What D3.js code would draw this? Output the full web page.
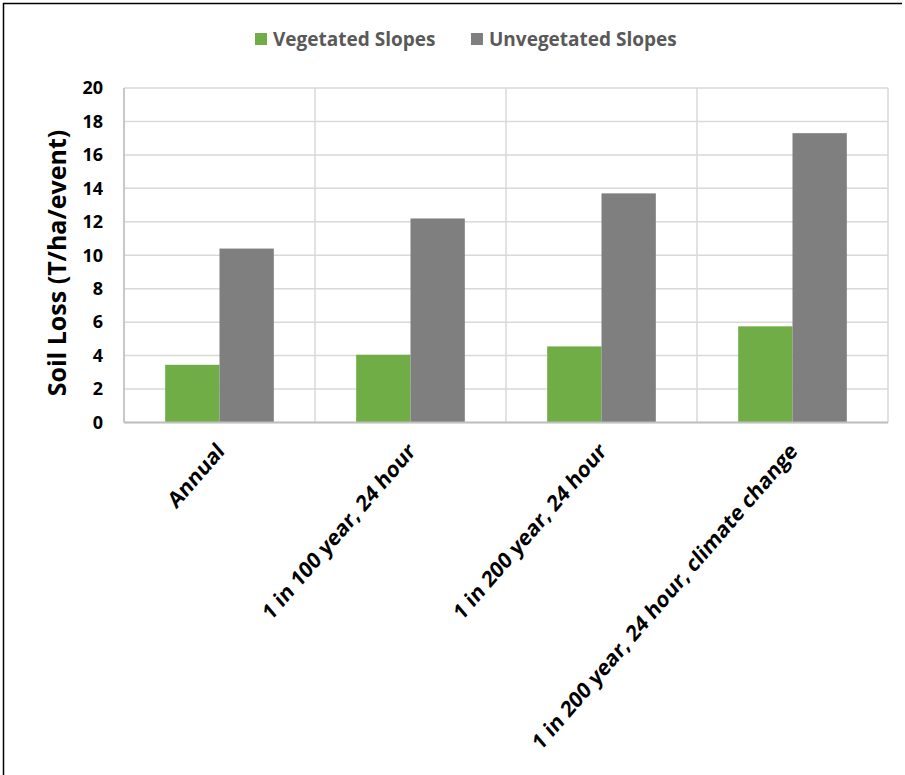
<!DOCTYPE html>
<html>
<head>
<meta charset="utf-8">
<script src="https://cdn.jsdelivr.net/npm/d3@7"></script>
<style>
  body { margin: 0; background: #fff; }
  svg { display: block; font-family: "Open Sans", "Liberation Sans", sans-serif; font-weight: bold; }
</style>
</head>
<body>
<svg id="chart"></svg>
<script>
// data
var categories = ["Annual", "1 in 100 year, 24 hour", "1 in 200 year, 24 hour", "1 in 200 year, 24 hour, climate change"];
var seriesNames = ["Vegetated Slopes", "Unvegetated Slopes"];
var vegetated = [3.45, 4.05, 4.55, 5.75];
var unvegetated = [10.4, 12.2, 13.7, 17.3];
var yTicks = [0, 2, 4, 6, 8, 10, 12, 14, 16, 18, 20];
var colors = ["#70AD47", "#7F7F7F"];

var W = 905, H = 775;
var pLeft = 124, pRight = 888, pTop = 88, pBottom = 422.5;
var font = "'Open Sans', sans-serif";

var svg = d3.select('#chart').attr("width", W).attr("height", H);

// outer frame (only left and top edges visible)
svg.append("line").attr("x1", 3.5).attr("y1", 3).attr("x2", 3.5).attr("y2", H)
    .attr("stroke", "#000").attr("stroke-width", 1.5);
svg.append("line").attr("x1", 3).attr("y1", 3.5).attr("x2", 902).attr("y2", 3.5)
    .attr("stroke", "#000").attr("stroke-width", 1.5);

var x0 = d3.scaleBand().domain(categories).range([pLeft, pRight]).paddingInner(0).paddingOuter(0);
var x1 = d3.scaleBand().domain(seriesNames).range([0, x0.bandwidth()]).paddingInner(0).paddingOuter(0.758);
var y = d3.scaleLinear().domain([0, 20]).range([pBottom, pTop]);

// horizontal gridlines
svg.append("g").selectAll("line").data(yTicks).enter().append("line")
    .attr("x1", pLeft).attr("x2", pRight)
    .attr("y1", function (d) { return y(d); }).attr("y2", function (d) { return y(d); })
    .attr("stroke", "#D9D9D9").attr("stroke-width", 1.5);

// vertical gridlines at category boundaries
var bounds = categories.map(function (c) { return x0(c); }).concat([pRight]);
svg.append("g").selectAll("line").data(bounds).enter().append("line")
    .attr("x1", function (d) { return d; }).attr("x2", function (d) { return d; })
    .attr("y1", pTop).attr("y2", pBottom)
    .attr("stroke", "#D9D9D9").attr("stroke-width", 1.5);

// bars
var rows = categories.map(function (c, i) { return { cat: c, vals: [vegetated[i], unvegetated[i]] }; });
var groups = svg.append("g").selectAll("g").data(rows).enter().append("g")
    .attr("transform", function (d) { return "translate(" + x0(d.cat) + ",0)"; });
groups.selectAll("rect").data(function (d) {
    return d.vals.map(function (v, j) { return { name: seriesNames[j], v: v, j: j }; });
}).enter().append("rect")
    .attr("x", function (d) { return x1(d.name); })
    .attr("width", x1.bandwidth())
    .attr("y", function (d) { return y(d.v); })
    .attr("height", function (d) { return y(0) - y(d.v); })
    .attr("fill", function (d) { return colors[d.j]; });

// axis lines
svg.append("line").attr("x1", pLeft).attr("x2", pRight).attr("y1", pBottom).attr("y2", pBottom)
    .attr("stroke", "#BFBFBF").attr("stroke-width", 2);
svg.append("line").attr("x1", pLeft).attr("x2", pLeft).attr("y1", pTop).attr("y2", pBottom)
    .attr("stroke", "#BFBFBF").attr("stroke-width", 1.5);

// y axis labels
var yAxis = d3.axisLeft(y).tickValues(yTicks).tickSize(0).tickPadding(21);
var gy = svg.append("g").attr("transform", "translate(" + pLeft + ",0)").call(yAxis);
gy.select(".domain").remove();
gy.selectAll("text").attr("font-size", 18).attr("font-family", font)
    .attr("font-weight", "bold").attr("fill", "#000");

// x axis labels (the source image is slightly stretched vertically)
var xAxis = d3.axisBottom(x0).tickSize(0).tickPadding(0);
var gx = svg.append("g").attr("transform", "translate(0," + pBottom + ")").call(xAxis);
gx.select(".domain").remove();
gx.selectAll("text")
    .attr("font-size", 19.5).attr("font-family", font).attr("font-weight", "bold").attr("fill", "#000")
    .attr("text-anchor", "end").attr("dy", null).attr("y", 0)
    .attr("transform", "translate(6,30) scale(1,1.16) rotate(-45)");

// y title
svg.append("text").attr("transform", "translate(66,263) rotate(-90)")
    .attr("text-anchor", "middle").attr("font-size", 25).attr("fill", "#000")
    .text("Soil Loss (T/ha/event)");

// legend
var legendX = [255, 471];
var legend = svg.append("g").selectAll("g").data(seriesNames).enter().append("g")
    .attr("transform", function (d, i) { return "translate(" + legendX[i] + ",33)"; });
legend.append("rect").attr("width", 12).attr("height", 12).attr("fill", function (d, i) { return colors[i]; });
legend.append("text").attr("x", 18).attr("y", 12.5).attr("font-size", 19).attr("fill", "#595959")
    .text(function (d) { return d; });
</script>
</body>
</html>
